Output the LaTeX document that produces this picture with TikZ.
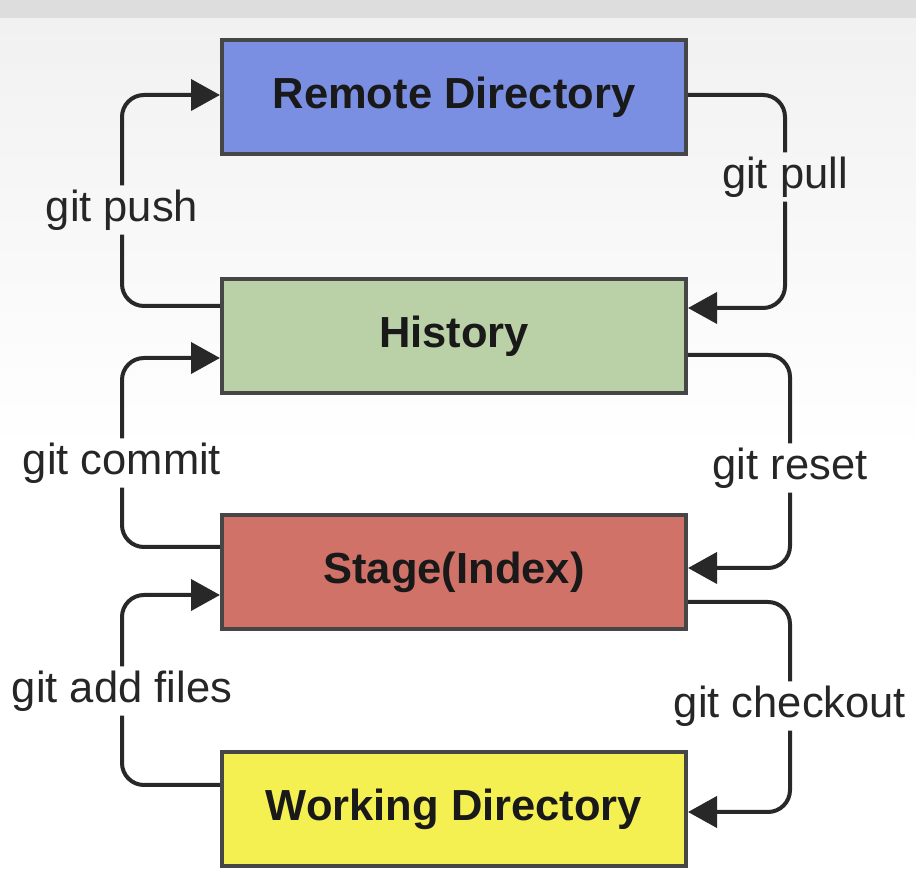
\documentclass[tikz,border=0pt]{standalone}
\usepackage{fontspec}
\setmainfont{Liberation Sans}
\usetikzlibrary{arrows.meta}
\definecolor{remoteblue}{RGB}{122,143,226}
\definecolor{historygreen}{RGB}{186,208,166}
\definecolor{stagered}{RGB}{209,114,104}
\definecolor{workyellow}{RGB}{245,240,82}
\definecolor{boxline}{RGB}{70,70,70}
\definecolor{flowline}{RGB}{40,40,40}
\definecolor{bgband}{RGB}{221,221,222}
\definecolor{bgpale}{RGB}{241,241,241}
\begin{document}
\begin{tikzpicture}[x=1pt,y=1pt]
\tikzstyle{area}=[draw=boxline,line width=4pt,minimum width=464pt,minimum height=114pt,text=black!90,font=\fontsize{43.5}{50}\selectfont\bfseries];
\tikzstyle{cmd}=[inner sep=4pt,text height=32pt,text depth=9pt,text=black!85,font=\fontsize{43.5}{50}\selectfont];
\tikzstyle{flow}=[draw=flowline,line width=4pt,rounded corners=22pt,-{Triangle[length=29pt,width=31pt]}];
% background
\useasboundingbox (0,0) rectangle (916,886);
\shade[top color=bgpale,bottom color=white,middle color=white] (0,0) rectangle (916,868);
\fill[bgband] (0,868) rectangle (916,886);
% areas
\node[area,fill=remoteblue] (remote) at (454,789) {Remote Directory};
\node[area,fill=historygreen] (history) at (454,550) {History};
\node[area,fill=stagered] (stage) at (454,314) {Stage(Index)};
\node[area,fill=workyellow] (working) at (454,77) {Working Directory};
% commands
\node[cmd] (push) at (122,676) {git push};
\node[cmd] (pull) at (785,709) {git pull};
\node[cmd] (commit) at (122,423) {git commit};
\node[cmd] (reset) at (790,418) {git reset};
\node[cmd] (add) at (122,195) {git add files};
\node[cmd] (checkout) at (790,180) {git checkout};
% flows
\draw[flow] ([yshift=30pt]history.west) -| (push) |- ([yshift=2pt]remote.west);
\draw[flow] ([yshift=2pt]remote.east) -| (pull) |- ([yshift=28pt]history.east);
\draw[flow] ([yshift=25pt]stage.west) -| (commit) |- ([yshift=-22pt]history.west);
\draw[flow] ([yshift=-19pt]history.east) -| (reset) |- ([yshift=4pt]stage.east);
\draw[flow] ([yshift=24pt]working.west) -| (add) |- ([yshift=-23pt]stage.west);
\draw[flow] ([yshift=-30pt]stage.east) -| (checkout) |- ([yshift=-3pt]working.east);
\end{tikzpicture}
\end{document}
